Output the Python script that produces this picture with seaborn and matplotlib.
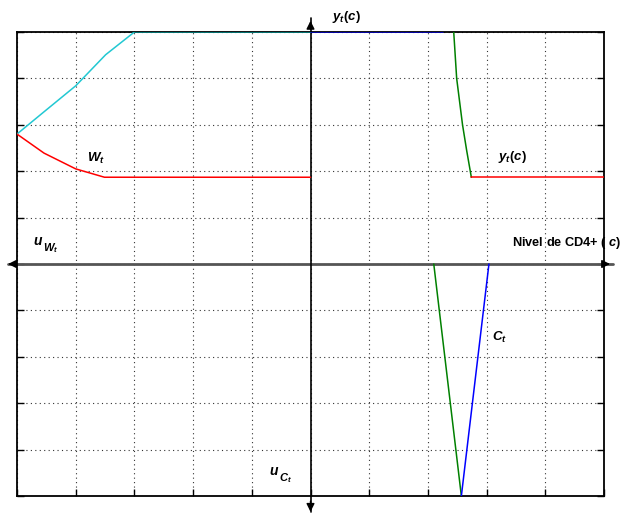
import matplotlib
matplotlib.use("Agg")
import matplotlib.pyplot as plt
import seaborn as sns
import pandas as pd
import numpy as np

# ---- data ----
cyan_x = [-5.0, -4.54, -4.0, -3.49, -3.0]
cyan_y = [2.8, 3.28, 3.84, 4.51, 5.0]
teal_x = [-3.0, 0.0]
teal_y = [5.0, 5.0]
red_left_x = [-5.0, -4.54, -4.0, -3.51, 0.0]
red_left_y = [2.8, 2.39, 2.05, 1.87, 1.87]
blue_top_x = [0.0, 2.25]
blue_top_y = [5.0, 5.0]
green_top_x = [2.44, 2.49, 2.59, 2.66, 2.74]
green_top_y = [5.0, 4.0, 3.0, 2.45, 1.87]
red_right_x = [2.74, 5.0]
red_right_y = [1.87, 1.87]
green_low_x = [2.10, 2.57]
green_low_y = [0.0, -5.0]
blue_low_x = [2.57, 3.04]
blue_low_y = [-5.0, 0.0]

ticks = [-5, -4, -3, -2, -1, 0, 1, 2, 3, 4, 5]

sns.set_theme(style="white")
plt.rcParams['font.family'] = ['Liberation Sans', 'DejaVu Sans']
plt.rcParams['text.color'] = 'black'
plt.rcParams['mathtext.fontset'] = 'custom'
plt.rcParams['mathtext.rm'] = 'Liberation Sans:bold'
plt.rcParams['mathtext.it'] = 'Liberation Sans:italic:bold'
plt.rcParams['mathtext.bf'] = 'Liberation Sans:bold'

fig = plt.figure(figsize=(6.24, 5.17), dpi=100)
ax = fig.add_axes([17/624, 21/517, 587/624, 464/517])
ax.set_xlim(-5, 5)
ax.set_ylim(-5, 5)

ax.set_xticks(ticks)
ax.set_yticks(ticks)
ax.set_xticklabels([])
ax.set_yticklabels([])
ax.grid(True, linestyle=(0, (1, 3)), color='#333333', linewidth=0.8)
ax.tick_params(axis='both', direction='in', length=5, width=1, color='black',
               bottom=True, left=True, right=True, top=False)
for s in ax.spines.values():
    s.set_color('black')
    s.set_linewidth(1.3)

# axis lines through origin
ax.plot([-5.15, 5.15], [0, 0], color='#555555', lw=2.0, clip_on=False, zorder=2)
ax.plot([0, 0], [-5.35, 5.3], color='black', lw=1.2, clip_on=False, zorder=2)
ax.annotate('', xy=(-5.2, 0), xytext=(-5.0, 0), annotation_clip=False,
            arrowprops=dict(arrowstyle='-|>', color='black', lw=1, mutation_scale=12))
ax.annotate('', xy=(5.15, 0), xytext=(4.95, 0), annotation_clip=False,
            arrowprops=dict(arrowstyle='-|>', color='black', lw=1, mutation_scale=12))
ax.annotate('', xy=(0, 5.3), xytext=(0, 5.0), annotation_clip=False,
            arrowprops=dict(arrowstyle='-|>', color='black', lw=1, mutation_scale=12))
ax.annotate('', xy=(0, -5.4), xytext=(0, -5.05), annotation_clip=False,
            arrowprops=dict(arrowstyle='-|>', color='black', lw=1, mutation_scale=12))

def line(x, y, color):
    sns.lineplot(x=x, y=y, ax=ax, color=color, lw=1.1, sort=False,
                 estimator=None, legend=False, zorder=3)

line(cyan_x, cyan_y, '#22c8d2')
line(teal_x, teal_y, '#008c8c')
line(red_left_x, red_left_y, '#ff0000')
line(blue_top_x, blue_top_y, '#0000cc')
line(green_top_x, green_top_y, '#008000')
line(red_right_x, red_right_y, '#ff0000')
line(green_low_x, green_low_y, '#008000')
line(blue_low_x, blue_low_y, '#0000ff')

fs = 9.5
ax.text(0.37, 5.25, r'$y_t(c)$', fontsize=fs, ha='left', va='baseline')
ax.text(3.2, 2.25, r'$y_t(c)$', fontsize=fs, ha='left', va='baseline')
ax.text(-3.8, 2.2, r'$W_t$', fontsize=fs, ha='left', va='baseline')
ax.text(3.09, -1.65, r'$C_t$', fontsize=fs, ha='left', va='baseline')


def nested(x, y, base, sub):
    ax.text(x, y, r'$%s$' % base, fontsize=10, ha='left', va='baseline')
    ax.annotate(r'$%s_t$' % sub, xy=(x, y), xytext=(7.0, -4.5),
                textcoords='offset points', fontsize=8, ha='left', va='baseline')


nested(-4.73, 0.4, 'u', 'W')
nested(-0.7, -4.55, 'u', 'C')
ax.text(3.43, 0.38, r'Nivel de CD4+ ( $c$)', fontsize=9.2, fontweight='bold',
        ha='left', va='baseline')

fig.savefig('out.png', dpi=100)
